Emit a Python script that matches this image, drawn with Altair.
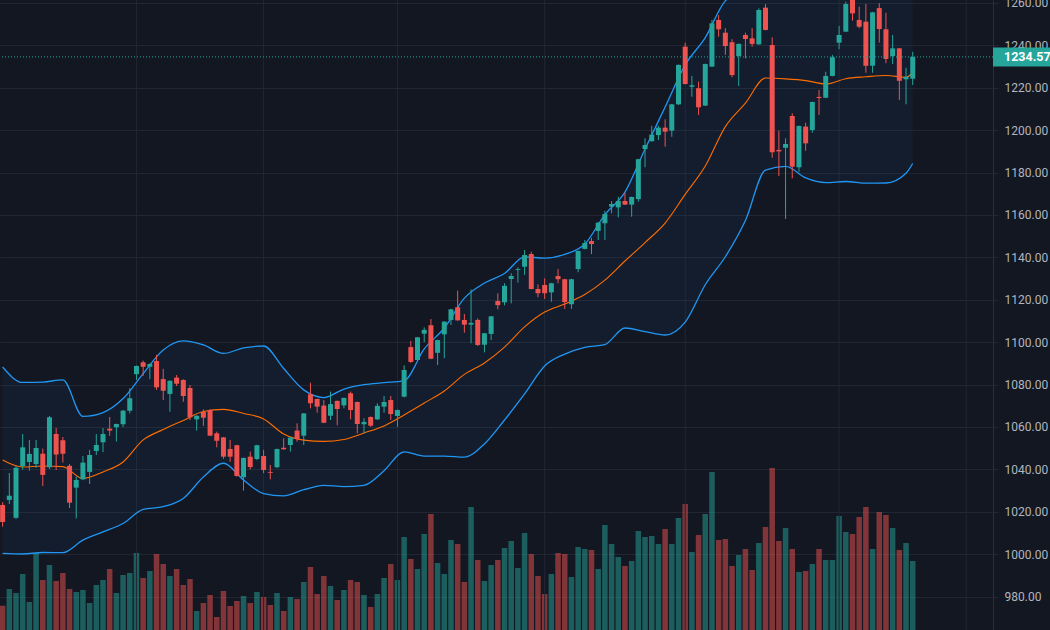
import altair as alt
import pandas as pd

# ---------------- data ----------------
opens = [
    1023.2, 1025.6, 1017.2, 1041.6, 1043.5, 1042.5, 1047.4, 1041.0, 1056.7, 1053.7,
    1041.7, 1031.4, 1035.3, 1038.8, 1048.7, 1052.8, 1059.2, 1059.9, 1061.3, 1067.7,
    1084.9, 1090.5, 1088.4, 1091.1, 1082.6, 1075.6, 1083.3, 1082.2, 1078.4, 1063.6,
    1067.1, 1068.0, 1057.0, 1055.1, 1049.6, 1051.4, 1036.3, 1046.0, 1044.9, 1046.3,
    1038.8, 1041.0, 1050.2, 1051.5, 1058.3, 1055.9, 1075.4, 1073.2, 1070.1, 1065.3,
    1072.3, 1070.2, 1075.9, 1071.8, 1061.3, 1064.7, 1063.6, 1069.6, 1072.7, 1065.2,
    1074.3, 1097.7, 1091.6, 1104.0, 1108.0, 1095.0, 1103.7, 1110.5, 1116.5, 1110.5,
    1108.3, 1110.5, 1098.8, 1103.9, 1119.4, 1118.8, 1129.8, 1134.1, 1135.6, 1141.6,
    1125.1, 1127.0, 1123.5, 1131.2, 1129.7, 1117.9, 1134.5, 1144.0, 1147.7, 1152.5,
    1156.1, 1163.9, 1163.6, 1166.6, 1164.9, 1167.5, 1191.1, 1194.8, 1197.7, 1201.2,
    1199.8, 1212.2, 1239.4, 1220.5, 1219.8, 1211.6, 1230.0, 1252.0, 1246.0, 1241.5,
    1235.0, 1244.9, 1243.3, 1240.5, 1257.8, 1240.2, 1190.7, 1191.7, 1206.7, 1182.5,
    1201.7, 1200.1, 1215.7, 1215.3, 1225.6, 1241.3, 1246.5, 1262.0, 1252.0, 1251.2,
    1230.4, 1257.6, 1247.6, 1235.0, 1238.6, 1224.0, 1224.3,
]
highs = [
    1024.5, 1038.3, 1041.6, 1056.7, 1053.9, 1053.9, 1049.8, 1065.2, 1059.5, 1055.3,
    1042.5, 1036.6, 1046.3, 1049.2, 1056.7, 1059.5, 1064.7, 1061.6, 1068.0, 1078.3,
    1089.0, 1091.3, 1090.0, 1094.0, 1087.4, 1082.0, 1084.5, 1082.5, 1079.8, 1065.5,
    1068.3, 1068.5, 1057.8, 1055.3, 1053.9, 1051.6, 1045.6, 1048.4, 1051.6, 1049.2,
    1042.1, 1049.8, 1054.7, 1055.2, 1061.7, 1066.6, 1080.9, 1073.4, 1072.7, 1076.7,
    1072.5, 1073.9, 1076.7, 1072.0, 1064.1, 1065.0, 1071.2, 1074.6, 1074.6, 1068.2,
    1089.1, 1100.6, 1102.5, 1107.0, 1110.9, 1101.2, 1109.9, 1115.7, 1124.3, 1113.3,
    1124.9, 1111.3, 1104.4, 1112.4, 1123.1, 1127.8, 1132.5, 1135.3, 1143.5, 1142.7,
    1127.3, 1130.1, 1128.0, 1134.5, 1129.9, 1129.9, 1143.2, 1148.2, 1149.2, 1156.6,
    1162.0, 1166.6, 1168.6, 1170.5, 1168.7, 1186.5, 1196.2, 1202.1, 1202.1, 1205.1,
    1212.4, 1231.0, 1241.3, 1225.6, 1222.9, 1231.4, 1252.0, 1254.3, 1248.1, 1242.9,
    1240.9, 1246.0, 1248.1, 1257.5, 1259.5, 1243.8, 1199.8, 1196.2, 1208.0, 1202.2,
    1203.5, 1213.5, 1219.0, 1227.6, 1235.5, 1249.2, 1260.6, 1263.0, 1258.3, 1259.5,
    1255.8, 1259.9, 1255.4, 1244.9, 1238.8, 1229.5, 1237.0,
]
lows = [
    1013.0, 1023.7, 1016.6, 1039.9, 1039.4, 1040.7, 1032.2, 1040.2, 1039.7, 1043.2,
    1021.8, 1016.9, 1034.9, 1033.1, 1046.8, 1048.1, 1055.8, 1053.1, 1060.0, 1066.4,
    1082.2, 1084.1, 1082.6, 1077.5, 1072.7, 1067.2, 1079.3, 1071.9, 1063.3, 1058.3,
    1060.5, 1055.8, 1050.4, 1045.0, 1043.6, 1036.6, 1030.0, 1040.0, 1044.4, 1038.2,
    1035.3, 1040.7, 1049.3, 1048.4, 1053.1, 1051.5, 1068.8, 1066.7, 1061.8, 1063.3,
    1060.8, 1068.8, 1063.6, 1057.0, 1057.0, 1060.1, 1063.3, 1066.7, 1063.3, 1060.1,
    1074.0, 1090.3, 1091.3, 1100.0, 1092.0, 1089.2, 1092.4, 1108.1, 1110.1, 1104.5,
    1099.5, 1098.2, 1095.2, 1101.0, 1115.5, 1117.4, 1118.3, 1128.1, 1131.7, 1124.9,
    1121.2, 1120.4, 1119.1, 1127.8, 1115.7, 1115.7, 1133.0, 1143.8, 1141.6, 1148.2,
    1148.2, 1160.8, 1158.9, 1164.7, 1159.2, 1166.3, 1182.5, 1194.6, 1195.4, 1192.2,
    1196.9, 1211.9, 1221.6, 1215.8, 1207.2, 1211.4, 1229.8, 1244.1, 1235.5, 1225.0,
    1220.8, 1233.9, 1239.4, 1240.3, 1247.1, 1187.0, 1178.4, 1158.1, 1177.3, 1180.4,
    1190.3, 1198.8, 1207.2, 1215.1, 1225.4, 1238.2, 1246.3, 1251.7, 1248.1, 1227.1,
    1227.1, 1241.3, 1231.6, 1231.2, 1214.2, 1212.2, 1221.3,
]
closes = [
    1015.2, 1027.6, 1040.8, 1050.4, 1047.3, 1050.1, 1037.4, 1064.6, 1047.0, 1047.4,
    1024.3, 1035.0, 1043.2, 1046.8, 1051.5, 1056.7, 1058.3, 1061.4, 1067.7, 1073.5,
    1088.8, 1088.4, 1089.7, 1078.7, 1077.1, 1081.8, 1080.4, 1074.6, 1064.6, 1065.3,
    1064.4, 1055.9, 1053.5, 1046.0, 1046.0, 1036.9, 1045.4, 1041.1, 1051.4, 1039.7,
    1038.4, 1049.6, 1049.5, 1055.0, 1054.3, 1066.4, 1071.2, 1069.6, 1062.0, 1070.8,
    1068.5, 1073.7, 1068.0, 1061.4, 1062.4, 1060.6, 1070.0, 1071.8, 1066.1, 1068.0,
    1086.9, 1090.7, 1102.3, 1105.8, 1092.2, 1101.0, 1109.7, 1115.5, 1110.3, 1108.3,
    1109.1, 1098.7, 1104.2, 1112.2, 1117.5, 1126.6, 1131.2, 1134.5, 1141.1, 1125.1,
    1123.1, 1123.1, 1127.8, 1129.7, 1118.9, 1129.7, 1143.0, 1146.8, 1146.3, 1156.4,
    1160.5, 1165.2, 1166.6, 1164.9, 1168.5, 1186.3, 1193.0, 1197.9, 1201.2, 1199.3,
    1212.2, 1230.8, 1221.8, 1221.2, 1210.8, 1231.2, 1250.4, 1247.6, 1239.7, 1226.0,
    1240.7, 1243.0, 1240.7, 1256.7, 1247.3, 1189.6, 1190.0, 1193.5, 1182.8, 1202.0,
    1193.8, 1213.3, 1215.2, 1225.6, 1234.4, 1244.9, 1259.5, 1255.1, 1248.8, 1230.4,
    1255.6, 1247.7, 1233.6, 1238.6, 1223.3, 1225.2, 1234.57,
]
volumes = [
    24300, 41000, 37000, 56000, 28000, 77000, 50000, 65000, 49000, 57000,
    41000, 38000, 40000, 27000, 45000, 50000, 61000, 37000, 55000, 57000,
    77000, 52000, 59000, 76000, 66000, 54000, 61000, 45000, 51000, 19000,
    27000, 35000, 13000, 39000, 24000, 29000, 34000, 27000, 38000, 33000,
    25000, 37000, 19000, 33000, 31000, 48000, 63000, 36000, 54000, 44000,
    30000, 40000, 50000, 48000, 35000, 23000, 36000, 52000, 66000, 50000,
    93000, 71000, 61000, 96000, 116000, 67000, 56000, 90000, 86000, 48000,
    123000, 70000, 49000, 65000, 70000, 82000, 89000, 62000, 97000, 76000,
    54000, 36000, 56000, 77000, 76000, 53000, 83000, 81000, 80000, 61000,
    105000, 86000, 73000, 64000, 69000, 99000, 93000, 94000, 86000, 101000,
    86000, 112000, 126000, 78000, 95000, 116000, 158000, 90000, 91000, 64000,
    75000, 81000, 60000, 87000, 103000, 162000, 89000, 102000, 81000, 58000,
    59000, 66000, 81000, 70000, 70000, 114000, 98000, 96000, 113000, 123000,
    81000, 118000, 115000, 102000, 80000, 87000, 69000,
]

# Bollinger bands (20, 2) at every third bar
band_idx = [0, 3, 6, 9, 12, 15, 18, 21, 24, 27, 30, 33, 36, 39, 42, 45, 48, 51, 54, 57,
            60, 63, 66, 69, 72, 75, 78, 81, 84, 87, 90, 93, 96, 99, 102, 105, 108, 111,
            114, 117, 120, 123, 126, 129, 132, 135, 136]
band_upper = [1088.3, 1081.0, 1081.2, 1082.2, 1065.0, 1066.8, 1073.4, 1085.2, 1096.3, 1100.6,
              1098.7, 1094.7, 1097.3, 1098.2, 1087.6, 1077.5, 1073.9, 1077.9, 1080.0, 1080.9,
              1081.9, 1096.8, 1106.7, 1120.8, 1127.9, 1132.4, 1140.2, 1139.7, 1141.4, 1146.3,
              1160.2, 1170.8, 1191.1, 1210.9, 1230.8, 1243.7, 1261.0, 1266.0, 1270.0, 1275.0,
              1276.0, 1272.0, 1272.0, 1272.0, 1270.0, 1268.0, 1269.0]
band_mid = [1044.4, 1041.1, 1041.6, 1041.3, 1035.7, 1038.8, 1043.5, 1053.9, 1058.8, 1063.1,
            1067.3, 1068.3, 1066.4, 1063.8, 1056.7, 1053.8, 1053.2, 1054.1, 1057.2, 1060.5,
            1065.7, 1071.3, 1077.0, 1084.8, 1090.2, 1097.7, 1107.2, 1114.2, 1118.0, 1122.5,
            1129.3, 1138.3, 1147.0, 1156.2, 1169.7, 1183.1, 1201.7, 1212.8, 1224.6, 1224.2,
            1223.4, 1221.8, 1224.3, 1225.2, 1225.8, 1225.0, 1227.1]
band_lower = [1000.4, 1000.1, 1000.8, 1000.7, 1006.6, 1010.5, 1014.5, 1021.1, 1022.4, 1026.3,
              1036.4, 1042.9, 1035.0, 1028.6, 1027.5, 1030.4, 1032.5, 1031.9, 1032.5, 1039.4,
              1048.3, 1046.3, 1046.3, 1045.8, 1052.0, 1063.3, 1075.6, 1088.8, 1094.4, 1097.6,
              1098.9, 1106.7, 1105.0, 1103.4, 1109.5, 1127.1, 1140.3, 1157.4, 1181.2, 1182.9,
              1177.5, 1175.3, 1175.8, 1175.0, 1175.1, 1179.7, 1184.3]

month_idx = [20, 39, 59, 81, 102, 125, 144]   # vertical grid (period starts)
y_ticks = [980, 1000, 1020, 1040, 1060, 1080, 1100, 1120, 1140, 1160,
           1180, 1200, 1220, 1240, 1260]
last_price = 1234.57
last_label = "1234.57"

# ---------------- styling ----------------
BG = "#131722"
GRID = "#222632"
UP = "#26a69a"
DOWN = "#ef5350"
BAND_BLUE = "#2196f3"
BASIS = "#ff6d00"

candles = pd.DataFrame({
    "i": list(range(len(opens))),
    "open": opens, "high": highs, "low": lows, "close": closes, "vol": volumes,
})
candles["dir"] = ["up" if c >= o else "down" for o, c in zip(opens, closes)]
bands = pd.DataFrame({"i": band_idx, "upper": band_upper, "mid": band_mid, "lower": band_lower})
months = pd.DataFrame({"i": month_idx})
last = pd.DataFrame({"price": [last_price], "label": [last_label]})

xscale = alt.Scale(domain=[0.355, 147.25], nice=False, zero=False)
yscale = alt.Scale(domain=[964.24, 1261.415], nice=False, zero=False)
X = alt.X("i:Q", scale=xscale, axis=None)

price_axis = alt.Axis(
    orient="right", values=y_ticks, format=".2f", title=None,
    grid=True, gridColor=GRID, gridWidth=1,
    ticks=True, tickColor=GRID, tickSize=5,
    domain=True, domainColor="#2a2e39",
    labelColor="#b2b5be", labelFont="Roboto", labelFontSize=12,
    labelPadding=6, labelFlush=False, labelOverlap=False, labelBaseline="middle",
)


def py(field):
    return alt.Y(field, type="quantitative", scale=yscale, axis=price_axis, title=None)


dir_color = alt.Color("dir:N", scale=alt.Scale(domain=["up", "down"], range=[UP, DOWN]), legend=None)

vgrid = alt.Chart(months).mark_rule(color=GRID, strokeWidth=1).encode(x=X)

band_fill = alt.Chart(bands).mark_area(color=BAND_BLUE, opacity=0.055, clip=True,
                                       interpolate="monotone").encode(
    x=X, y=py("upper"), y2="lower:Q")
upper_line = alt.Chart(bands).mark_line(color=BAND_BLUE, strokeWidth=1.3, clip=True,
                                        interpolate="monotone").encode(x=X, y=py("upper"))
lower_line = alt.Chart(bands).mark_line(color=BAND_BLUE, strokeWidth=1.3, clip=True,
                                        interpolate="monotone").encode(x=X, y=py("lower"))
mid_line = alt.Chart(bands).mark_line(color=BASIS, strokeWidth=1.1, clip=True,
                                      interpolate="monotone").encode(x=X, y=py("mid"))

wicks = alt.Chart(candles).mark_rule(strokeWidth=1, clip=True).encode(
    x=X, y=py("low"), y2="high:Q", color=dir_color)
bodies = alt.Chart(candles).mark_bar(width=5, orient="vertical", clip=True).encode(
    x=X, y=py("open"), y2="close:Q", color=dir_color)

price_line = alt.Chart(last).mark_rule(color=UP, strokeDash=[1, 2], strokeWidth=1, clip=True).encode(
    y=py("price"))
tag_box = alt.Chart(last).mark_rect(color=UP, yOffset=-9.5, y2Offset=9.5).encode(
    x=alt.value(993), x2=alt.value(1050), y=py("price"), y2="price:Q")
tag_text = alt.Chart(last).mark_text(
    color="#ffffff", font="Roboto", fontSize=12.5, fontWeight="bold",
    align="left", baseline="middle").encode(
    x=alt.value(1004), y=py("price"), text="label:N")

price_layer = alt.layer(vgrid, band_fill, upper_line, lower_line, mid_line,
                        wicks, bodies, price_line, tag_box, tag_text)

volume_layer = alt.Chart(candles).mark_bar(width=5.5, orient="vertical", opacity=0.5, clip=True).encode(
    x=X,
    y=alt.Y("vol:Q", scale=alt.Scale(domain=[0, 630000], nice=False, zero=True), axis=None, stack=None),
    color=dir_color,
)

chart = alt.layer(volume_layer, price_layer).resolve_scale(y="independent").properties(
    width=993, height=630,
    padding={"left": 0, "top": 0, "right": 57, "bottom": 0},
    autosize=alt.AutoSizeParams(type="none"),
    background=BG,
).configure_view(stroke=None)

chart.save("out.html", embed_options={"renderer": "svg", "actions": False})
